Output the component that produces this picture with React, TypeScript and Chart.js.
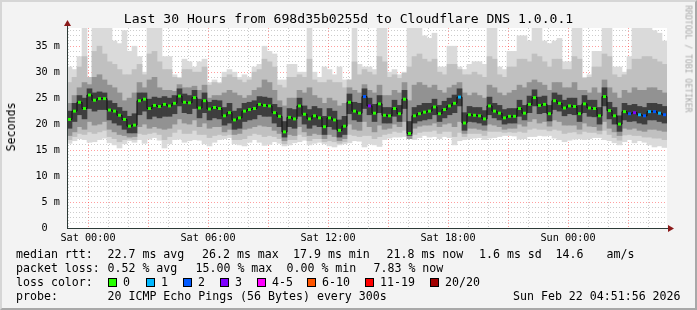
import React, { useEffect, useRef } from "react";
import { Chart, registerables } from "chart.js";

Chart.register(...registerables);

// ---------- text ----------
const chartTitle = "Last 30 Hours from 698d35b0255d to Cloudflare DNS 1.0.0.1";
const unitTitle = "Seconds";
const watermark = "RRDTOOL / TOBI OETIKER";

// ---------- axes ----------
const spanMinutes = 1800; // 30 hours
const stepMinutes = 15;
const hourTickStart = 3; // first full hour (Fri 23:00) minutes after window start
const labelTickValues = [63, 423, 783, 1143, 1503];
const timeLabels = ["Sat 00:00", "Sat 06:00", "Sat 12:00", "Sat 18:00", "Sun 00:00"];
const yMax = 38.5;
const yLabelValues = [0, 5, 10, 15, 20, 25, 30, 35];
const yLabels = ["0  ", "5 m", "10 m", "15 m", "20 m", "25 m", "30 m", "35 m"];

// ---------- data (ms) ----------
const medianRtt = [
  20.9, 22.5, 24.2, 23.0, 25.6, 24.6, 24.9, 24.9, 22.7, 22.5, 21.7, 20.9, 19.6, 19.8, 24.5, 24.8, 23.0, 23.6, 23.4, 23.8,
  23.5, 24.0, 25.4, 24.2, 24.1, 25.1, 23.1, 24.5, 22.9, 23.2, 23.0, 21.6, 22.2, 20.8, 21.2, 22.5, 22.8, 23.0, 23.8, 23.6,
  23.5, 22.2, 21.5, 18.5, 21.3, 21.0, 23.5, 21.9, 21.0, 21.6, 21.2, 19.5, 21.2, 20.8, 18.8, 19.6, 24.2, 22.5, 22.1, 25.3,
  23.5, 22.1, 23.9, 21.7, 21.6, 23.0, 22.0, 24.8, 18.2, 21.6, 22.0, 22.3, 22.5, 23.3, 22.0, 22.8, 23.5, 24.0, 25.2, 20.2,
  21.8, 21.7, 21.6, 21.0, 23.5, 22.5, 22.1, 21.2, 21.5, 21.5, 23.0, 22.1, 23.8, 25.1, 23.6, 23.8, 22.0, 24.5, 24.0, 23.1,
  23.5, 23.4, 22.0, 23.9, 23.1, 23.0, 21.6, 25.3, 22.6, 21.6, 20.0, 22.4, 22.0, 22.2, 21.8, 21.6, 22.4, 22.4, 22.1, 21.8,
];

const lossCount = [
  0, 0, 0, 0, 0, 0, 0, 0, 0, 0, 0, 0, 0, 0, 0, 0, 0, 0, 0, 0,
  0, 0, 0, 0, 0, 0, 0, 0, 0, 0, 0, 0, 0, 0, 0, 0, 0, 0, 0, 0,
  0, 0, 0, 0, 0, 0, 0, 0, 0, 0, 0, 0, 0, 0, 0, 0, 0, 0, 0, 2,
  3, 0, 0, 0, 0, 0, 0, 0, 0, 0, 0, 0, 0, 0, 0, 0, 0, 0, 1, 0,
  0, 0, 0, 0, 0, 0, 0, 0, 0, 0, 0, 0, 0, 0, 0, 0, 0, 0, 0, 0,
  0, 0, 0, 0, 0, 0, 0, 0, 0, 0, 0, 0, 2, 3, 1, 2, 1, 2, 1, 2,
];

const pingMax = [
  31.0, 30.5, 33.0, 38.5, 29.0, 38.5, 38.5, 38.5, 38.5, 36.0, 35.5, 38.0, 34.0, 35.0, 33.0, 30.0, 38.5, 38.5, 38.5, 33.0,
  33.0, 29.5, 29.0, 32.5, 32.0, 31.0, 32.0, 32.5, 28.0, 28.5, 28.0, 30.0, 30.5, 30.0, 29.0, 29.5, 29.0, 31.0, 31.5, 35.0,
  34.0, 33.5, 28.5, 28.5, 31.5, 31.5, 30.0, 30.0, 38.5, 30.0, 29.0, 31.0, 30.5, 29.5, 31.0, 28.5, 28.5, 38.5, 31.5, 31.0,
  31.0, 30.5, 38.5, 38.5, 30.0, 30.5, 29.5, 30.0, 38.5, 38.5, 38.5, 37.0, 36.5, 37.5, 31.0, 31.0, 35.0, 35.0, 31.0, 30.5,
  31.5, 32.0, 32.0, 31.5, 38.5, 38.5, 31.0, 30.5, 34.0, 34.0, 37.0, 37.0, 36.0, 38.5, 38.5, 36.0, 35.5, 36.0, 36.5, 32.0,
  32.0, 38.5, 38.5, 29.0, 29.5, 34.0, 34.0, 38.5, 38.5, 31.0, 31.0, 30.0, 33.0, 38.5, 38.5, 38.5, 38.5, 38.0, 37.5, 36.0,
];

const pingMin = [
  16.3, 16.8, 17.2, 17.0, 16.5, 16.6, 17.0, 17.3, 16.4, 16.0, 15.4, 16.2, 16.8, 16.5, 17.0, 16.3, 17.1, 17.4, 16.9, 15.4,
  16.2, 17.0, 17.1, 16.5, 16.8, 17.0, 16.9, 16.2, 15.8, 16.5, 17.0, 17.2, 17.4, 16.2, 16.0, 15.8, 16.5, 17.0, 16.5, 15.9,
  16.1, 16.6, 16.3, 15.8, 16.0, 16.4, 16.6, 16.9, 16.0, 16.3, 16.5, 16.2, 15.8, 15.6, 16.0, 16.2, 16.4, 16.8, 16.7, 15.6,
  16.2, 16.0, 15.7, 17.0, 17.3, 17.5, 17.5, 17.6, 17.2, 17.0, 17.4, 17.8, 17.5, 17.6, 17.2, 17.6, 17.4, 16.0, 16.8, 17.0,
  17.2, 17.3, 17.4, 17.0, 17.3, 17.4, 17.6, 17.8, 17.8, 17.7, 17.1, 17.2, 17.6, 17.6, 17.8, 17.7, 17.8, 17.3, 17.0, 16.6,
  16.9, 17.1, 17.2, 17.0, 17.2, 17.4, 17.4, 17.0, 16.8, 16.4, 16.0, 16.6, 17.0, 16.4, 16.8, 16.5, 16.0, 15.6, 15.8, 15.5,
];

const lightHigh = [
  28.0, 29.0, 31.0, 33.0, 29.0, 34.0, 35.0, 33.5, 32.0, 31.5, 30.5, 29.5, 29.5, 30.5, 31.5, 29.5, 33.5, 34.0, 32.0, 30.5,
  30.5, 29.0, 28.8, 30.5, 30.5, 30.0, 30.0, 31.0, 27.5, 28.0, 27.8, 29.0, 29.5, 29.0, 28.5, 28.0, 28.5, 30.0, 30.5, 32.5,
  32.0, 31.0, 27.5, 27.0, 29.0, 29.0, 29.5, 29.0, 32.5, 28.5, 28.0, 28.0, 28.5, 28.0, 28.0, 27.0, 28.5, 32.0, 29.5, 30.5,
  30.0, 29.5, 33.0, 32.0, 29.0, 29.5, 28.8, 29.8, 31.0, 33.0, 33.5, 32.5, 32.0, 32.5, 30.0, 29.5, 31.5, 31.5, 30.5, 29.5,
  29.5, 30.0, 29.5, 29.0, 33.0, 32.5, 29.5, 29.0, 31.0, 31.0, 32.5, 32.5, 32.0, 33.5, 33.0, 32.0, 31.0, 32.5, 32.5, 30.5,
  30.5, 33.0, 32.5, 28.8, 29.0, 31.0, 31.0, 33.5, 33.0, 29.5, 29.0, 29.5, 30.5, 32.5, 32.5, 33.0, 33.0, 32.5, 32.0, 31.5,
];

const lightLow = [
  17.0, 17.6, 18.2, 18.0, 18.5, 18.2, 18.5, 18.8, 17.6, 17.2, 16.6, 17.0, 17.1, 17.0, 18.2, 18.0, 18.2, 18.4, 18.0, 17.0,
  17.6, 18.4, 19.0, 18.2, 18.2, 18.8, 18.0, 18.0, 17.4, 17.8, 18.0, 17.8, 18.0, 17.0, 17.0, 17.2, 17.8, 18.2, 18.0, 17.6,
  17.8, 17.6, 17.2, 16.2, 17.0, 17.0, 18.0, 17.6, 16.8, 17.2, 17.2, 16.6, 16.8, 16.6, 16.3, 16.6, 18.0, 17.8, 17.6, 17.8,
  17.8, 17.2, 17.6, 18.0, 18.2, 18.6, 18.4, 18.8, 17.2, 18.0, 18.4, 18.6, 18.6, 18.8, 18.2, 18.6, 18.6, 17.6, 18.4, 17.6,
  18.2, 18.2, 18.2, 17.8, 18.6, 18.6, 18.6, 18.4, 18.5, 18.4, 18.6, 18.4, 19.0, 19.2, 19.0, 19.0, 18.7, 19.0, 18.8, 18.2,
  18.4, 18.5, 18.1, 18.6, 18.4, 18.4, 18.1, 18.8, 18.0, 17.4, 16.9, 17.9, 18.0, 17.8, 17.8, 17.5, 17.5, 17.3, 17.3, 17.0,
];

const midHigh = [
  24.0, 25.5, 27.0, 28.0, 27.6, 29.0, 29.5, 28.5, 27.5, 27.0, 26.0, 24.5, 25.0, 26.0, 28.0, 27.0, 28.5, 29.0, 27.0, 26.5,
  26.5, 26.3, 27.6, 27.0, 27.0, 27.3, 26.5, 27.5, 25.0, 25.5, 25.5, 26.0, 26.5, 26.0, 25.5, 25.0, 25.5, 26.5, 27.0, 28.5,
  28.0, 26.5, 24.5, 23.5, 25.0, 25.0, 26.5, 26.0, 27.0, 25.5, 25.0, 24.0, 25.0, 24.5, 23.5, 24.0, 27.0, 26.5, 26.0, 27.6,
  26.5, 26.0, 27.5, 25.5, 25.5, 26.5, 26.0, 28.0, 24.5, 27.5, 28.0, 27.5, 27.0, 27.5, 26.5, 26.0, 27.0, 27.5, 28.0, 26.0,
  25.5, 26.0, 25.5, 25.0, 27.5, 27.0, 26.0, 25.5, 26.0, 26.5, 27.5, 27.0, 28.0, 28.5, 28.0, 27.5, 26.5, 28.0, 28.0, 27.0,
  27.0, 28.0, 26.5, 26.5, 26.0, 27.0, 26.0, 28.5, 27.0, 26.0, 25.0, 26.5, 26.0, 27.0, 26.5, 26.5, 27.0, 27.0, 26.5, 26.0,
];

const midLow = [
  17.8, 18.5, 19.5, 19.0, 20.5, 19.8, 20.0, 20.5, 19.0, 18.5, 18.0, 17.8, 17.5, 17.6, 19.5, 20.0, 19.2, 19.5, 19.2, 19.0,
  19.2, 20.0, 21.0, 20.2, 20.0, 20.8, 19.5, 20.2, 19.2, 19.5, 19.5, 18.5, 19.0, 18.0, 18.2, 19.0, 19.2, 19.5, 19.8, 19.6,
  19.5, 18.8, 18.2, 16.8, 18.0, 17.8, 19.5, 18.5, 17.8, 18.2, 18.0, 17.2, 18.0, 17.6, 16.8, 17.2, 20.0, 19.0, 18.8, 20.5,
  19.5, 18.5, 19.8, 19.0, 19.2, 20.0, 19.5, 20.5, 17.2, 19.2, 19.6, 19.8, 19.8, 20.2, 19.5, 20.0, 20.2, 19.5, 20.5, 18.2,
  19.2, 19.2, 19.0, 18.8, 20.0, 19.8, 19.5, 19.0, 19.2, 19.2, 20.0, 19.6, 20.5, 21.0, 20.2, 20.5, 19.6, 20.8, 20.5, 19.8,
  19.8, 19.8, 19.0, 20.2, 19.6, 19.5, 18.8, 20.5, 19.2, 18.5, 17.8, 19.2, 19.0, 19.2, 18.8, 18.6, 19.0, 19.0, 18.8, 18.6,
];

const coreHigh = [
  22.5, 24.0, 25.5, 25.0, 26.8, 26.0, 26.2, 26.0, 24.5, 24.0, 23.2, 22.5, 21.5, 22.0, 26.0, 26.0, 24.8, 25.2, 25.0, 25.3,
  25.0, 25.5, 26.8, 25.8, 25.5, 26.5, 24.8, 26.0, 24.2, 24.6, 24.5, 23.2, 24.0, 22.5, 23.0, 24.0, 24.2, 24.5, 25.3, 25.2,
  25.0, 23.8, 23.2, 20.5, 23.0, 22.8, 25.0, 23.5, 22.8, 23.4, 23.0, 21.5, 23.0, 22.5, 20.8, 21.5, 25.8, 24.2, 24.0, 26.8,
  25.0, 23.8, 25.5, 23.2, 23.2, 24.6, 23.6, 26.5, 20.5, 23.2, 23.6, 24.0, 24.0, 24.8, 23.6, 24.4, 25.0, 25.6, 26.8, 22.2,
  23.4, 23.2, 23.2, 22.6, 25.2, 24.0, 23.6, 22.8, 23.0, 23.0, 24.6, 23.6, 25.4, 26.6, 25.2, 25.4, 23.6, 26.0, 25.6, 24.6,
  25.0, 25.0, 23.6, 25.5, 24.6, 24.6, 23.2, 27.0, 24.2, 23.2, 21.6, 24.0, 23.6, 23.8, 23.4, 23.2, 24.0, 24.0, 23.8, 23.4,
];

const coreLow = [
  19.2, 20.5, 21.8, 21.0, 23.0, 22.5, 22.8, 22.8, 20.8, 20.2, 19.8, 19.0, 18.3, 18.3, 21.8, 22.5, 21.0, 21.5, 21.2, 21.5,
  21.5, 22.0, 23.5, 22.2, 22.0, 23.0, 21.2, 22.2, 20.8, 21.2, 21.0, 19.8, 20.2, 19.0, 19.2, 20.5, 20.8, 21.0, 21.8, 21.5,
  21.5, 20.2, 19.5, 17.5, 19.5, 19.2, 21.5, 20.0, 19.2, 19.8, 19.5, 18.0, 19.5, 19.0, 17.5, 18.0, 22.0, 20.8, 20.5, 23.0,
  21.8, 20.5, 22.2, 20.2, 20.2, 21.5, 20.5, 23.0, 17.8, 20.2, 20.6, 20.8, 21.0, 21.8, 20.5, 21.2, 21.8, 22.2, 23.5, 18.8,
  20.5, 20.4, 20.2, 19.8, 21.8, 21.2, 20.8, 20.0, 20.2, 20.2, 21.5, 20.8, 22.2, 23.5, 22.0, 22.2, 20.6, 22.8, 22.5, 21.6,
  22.0, 21.8, 20.5, 22.2, 21.5, 21.4, 20.0, 23.5, 21.0, 20.0, 18.6, 20.8, 20.5, 20.6, 20.2, 20.0, 20.8, 20.8, 20.5, 20.2,
];

// ---------- legend ----------
const lossLegend = [
  { label: "0", color: "#26ff00", box: 108, text: 123 },
  { label: "1", color: "#00b8ff", box: 146, text: 161 },
  { label: "2", color: "#0059ff", box: 183, text: 198 },
  { label: "3", color: "#7e00ff", box: 220, text: 235 },
  { label: "4-5", color: "#ff00ff", box: 257, text: 272 },
  { label: "6-10", color: "#ff5500", box: 307, text: 322 },
  { label: "11-19", color: "#ff0000", box: 365, text: 380 },
  { label: "20/20", color: "#a10000", box: 430, text: 445 },
];
const rttRow = [
  { x: 16, t: "median rtt:" },
  { x: 107.5, t: "22.7 ms avg" },
  { x: 202, t: "26.2 ms max" },
  { x: 293, t: "17.9 ms min" },
  { x: 386.5, t: "21.8 ms now" },
  { x: 479, t: "1.6 ms sd" },
  { x: 555.5, t: "14.6" },
  { x: 606.5, t: "am/s" },
];
const lossRow = [
  { x: 16, t: "packet loss:" },
  { x: 107.5, t: "0.52 % avg" },
  { x: 195.5, t: "15.00 % max" },
  { x: 286.5, t: "0.00 % min" },
  { x: 373.5, t: "7.83 % now" },
];
const probeRow = [
  { x: 16, t: "probe:" },
  { x: 107.5, t: "20 ICMP Echo Pings (56 Bytes) every 300s" },
  { x: 513, t: "Sun Feb 22 04:51:56 2026" },
];

const MONO = "'DejaVu Sans Mono', 'Liberation Mono', monospace";

function lossColor(n: number): string {
  if (n <= 0) return lossLegend[0].color;
  if (n === 1) return lossLegend[1].color;
  if (n === 2) return lossLegend[2].color;
  if (n === 3) return lossLegend[3].color;
  if (n <= 5) return lossLegend[4].color;
  if (n <= 10) return lossLegend[5].color;
  if (n <= 19) return lossLegend[6].color;
  return lossLegend[7].color;
}

const canvasBg = {
  id: "canvasBg",
  beforeDraw(chart: any) {
    const { ctx, chartArea } = chart;
    ctx.save();
    ctx.fillStyle = "#ffffff";
    ctx.fillRect(chartArea.left, chartArea.top, chartArea.right - chartArea.left, chartArea.bottom - chartArea.top);
    ctx.restore();
  },
};

const axisArrows = {
  id: "axisArrows",
  afterDraw(chart: any) {
    const { ctx, chartArea } = chart;
    const { left, right, top, bottom } = chartArea;
    ctx.save();
    ctx.strokeStyle = "#2c3a36";
    ctx.lineWidth = 1;
    ctx.beginPath();
    ctx.moveTo(left + 0.5, bottom + 0.5);
    ctx.lineTo(left + 0.5, top - 4);
    ctx.moveTo(left, bottom + 0.5);
    ctx.lineTo(right + 3, bottom + 0.5);
    ctx.stroke();
    ctx.fillStyle = "#8b1a1a";
    ctx.beginPath();
    ctx.moveTo(left + 0.5, top - 8);
    ctx.lineTo(left - 3, top - 2);
    ctx.lineTo(left + 4, top - 2);
    ctx.closePath();
    ctx.fill();
    ctx.beginPath();
    ctx.moveTo(right + 7, bottom + 0.5);
    ctx.lineTo(right + 1, bottom - 3);
    ctx.lineTo(right + 1, bottom + 4);
    ctx.closePath();
    ctx.fill();
    ctx.restore();
  },
};

export default function App() {
  const canvasRef = useRef<HTMLCanvasElement | null>(null);

  useEffect(() => {
    const canvas = canvasRef.current;
    if (!canvas) return;
    const xs = medianRtt.map((_, i) => i * stepMinutes + stepMinutes / 2);
    const band = (lo: number[], hi: number[]) => lo.map((l, i) => ({ x: xs[i], y: [l, hi[i]] }));
    const barCommon = {
      type: "bar" as const,
      grouped: false,
      barPercentage: 1,
      categoryPercentage: 1,
      borderWidth: 0,
    };

    const chart = new Chart(canvas, {
      type: "bar",
      data: {
        datasets: [
          { ...barCommon, data: band(pingMin, pingMax) as any, backgroundColor: "#dadada", order: 6 },
          { ...barCommon, data: band(lightLow, lightHigh) as any, backgroundColor: "#c0c0c0", order: 5 },
          { ...barCommon, data: band(midLow, midHigh) as any, backgroundColor: "#929292", order: 4 },
          { ...barCommon, data: band(coreLow, coreHigh) as any, backgroundColor: "#3e3e3e", order: 3 },
          {
            type: "line",
            data: xs.map((x, i) => ({ x, y: medianRtt[i] })) as any,
            borderColor: "rgba(10,10,10,0.9)",
            borderWidth: 1,
            stepped: "middle",
            pointStyle: "rect",
            pointRadius: 2.1,
            pointBorderWidth: 0,
            pointBackgroundColor: lossCount.map(lossColor),
            order: 1,
          } as any,
        ],
      },
      options: {
        responsive: false,
        animation: false,
        devicePixelRatio: 1,
        events: [],
        layout: { padding: { top: 28, right: 30, left: 0, bottom: 0 } },
        plugins: { legend: { display: false }, tooltip: { enabled: false }, title: { display: false } },
        scales: {
          x: {
            type: "linear",
            min: 0,
            max: spanMinutes,
            offset: false,
            z: 1,
            afterFit: (s: any) => {
              s.height = 82;
            },
            afterBuildTicks: (s: any) => {
              const t = [];
              for (let v = hourTickStart; v < spanMinutes; v += 60) t.push({ value: v });
              s.ticks = t;
            },
            ticks: {
              autoSkip: false,
              maxRotation: 0,
              minRotation: 0,
              padding: 4,
              color: "#000",
              font: { family: MONO, size: 10.2 },
              callback: (v: any) => {
                const k = labelTickValues.indexOf(Number(v));
                return k >= 0 ? timeLabels[k] : "";
              },
            },
            grid: {
              offset: false,
              drawTicks: false,
              lineWidth: 1,
              color: (ctx: any) => {
                const v = ctx.tick ? ctx.tick.value : 0;
                return (v - labelTickValues[0]) % 180 === 0 ? "rgba(255,0,0,0.38)" : "rgba(143,143,143,0.45)";
              },
            },
            border: { display: false, dash: [1, 2] },
          },
          y: {
            type: "linear",
            min: 0,
            max: yMax,
            z: 1,
            afterFit: (s: any) => {
              s.width = 67;
            },
            afterBuildTicks: (s: any) => {
              const t = [];
              for (let v = 0; v <= Math.floor(yMax); v += 1) t.push({ value: v });
              s.ticks = t;
            },
            ticks: {
              autoSkip: false,
              padding: 7,
              color: "#000",
              font: { family: MONO, size: 10.2 },
              callback: (v: any) => {
                const k = yLabelValues.indexOf(Number(v));
                return k >= 0 ? yLabels[k] : "";
              },
            },
            grid: {
              drawTicks: false,
              lineWidth: 1,
              color: (ctx: any) => {
                const v = ctx.tick ? ctx.tick.value : 0;
                return v % 5 === 0 ? "rgba(255,0,0,0.38)" : "rgba(143,143,143,0.45)";
              },
            },
            border: { display: false, dash: [1, 2] },
          },
        },
      } as any,
      plugins: [canvasBg, axisArrows],
    });
    return () => chart.destroy();
  }, []);

  const rowStyle = (top: number, left: number): React.CSSProperties => ({
    position: "absolute",
    left,
    top,
    fontFamily: MONO,
    fontSize: "11.6px",
    lineHeight: "14px",
    whiteSpace: "pre",
    color: "#000",
  });

  return (
    <div
      style={{
        position: "absolute",
        left: 0,
        top: 0,
        width: 697,
        height: 310,
        background: "#f3f3f3",
        overflow: "hidden",
      }}
    >
      <canvas ref={canvasRef} width={697} height={310} style={{ position: "absolute", left: 0, top: 0 }} />
      <div
        style={{
          position: "absolute",
          left: 0,
          top: 10.5,
          width: 697,
          textAlign: "center",
          fontFamily: MONO,
          fontSize: "13.1px",
          lineHeight: "16px",
          whiteSpace: "pre",
          color: "#000",
        }}
      >
        {chartTitle}
      </div>
      <div
        style={{
          position: "absolute",
          left: 11,
          top: 127,
          transform: "translate(-50%, -50%) rotate(-90deg)",
          fontFamily: MONO,
          fontSize: "11.6px",
          lineHeight: "12px",
          whiteSpace: "pre",
          color: "#000",
        }}
      >
        {unitTitle}
      </div>
      <div
        style={{
          position: "absolute",
          left: 688,
          top: 59,
          transform: "translate(-50%, -50%) rotate(90deg)",
          fontFamily: MONO,
          fontSize: "8.1px",
          lineHeight: "9px",
          whiteSpace: "pre",
          color: "#a9a9a9",
        }}
      >
        {watermark}
      </div>
      {rttRow.map((p, i) => (
        <div key={"r" + i} style={rowStyle(247, p.x)}>
          {p.t}
        </div>
      ))}
      {lossRow.map((p, i) => (
        <div key={"l" + i} style={rowStyle(261, p.x)}>
          {p.t}
        </div>
      ))}
      <div style={rowStyle(275, 16)}>loss color:</div>
      {lossLegend.map((c, i) => (
        <React.Fragment key={"c" + i}>
          <div
            style={{
              position: "absolute",
              left: c.box,
              top: 278,
              width: 9,
              height: 9,
              boxSizing: "border-box",
              border: "1px solid #000",
              background: c.color,
            }}
          />
          <div style={rowStyle(275, c.text)}>{c.label}</div>
        </React.Fragment>
      ))}
      {probeRow.map((p, i) => (
        <div key={"p" + i} style={rowStyle(289, p.x)}>
          {p.t}
        </div>
      ))}
      <div
        style={{
          position: "absolute",
          left: 0,
          top: 0,
          width: 697,
          height: 310,
          boxSizing: "border-box",
          borderTop: "2px solid #d6d6d6",
          borderLeft: "2px solid #d6d6d6",
          borderRight: "2px solid #a8a8a8",
          borderBottom: "2px solid #a8a8a8",
          pointerEvents: "none",
        }}
      />
    </div>
  );
}
